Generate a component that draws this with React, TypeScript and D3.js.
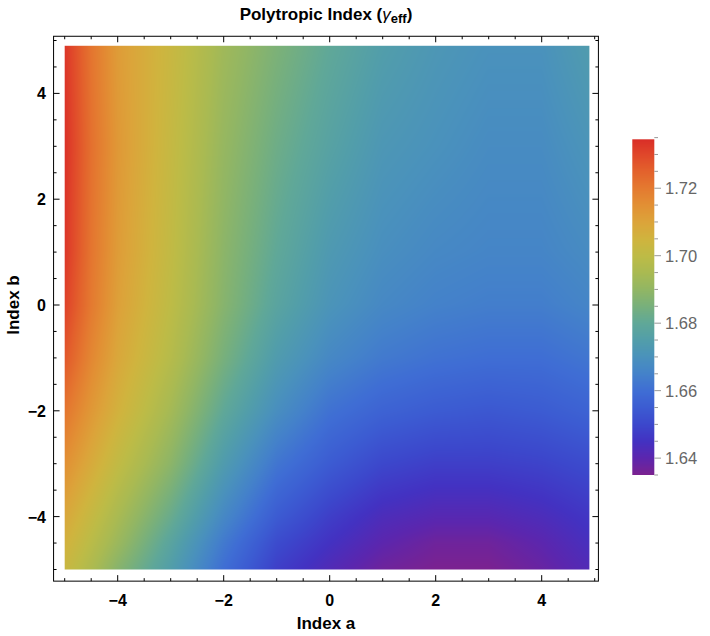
import React, { useMemo } from "react";
import * as d3 from "d3";

// Grid coordinates (Index a columns, Index b rows)
const aGrid = [-5, -4.5, -4, -3, -2, -1, 0, 1, 2, 3, 4, 4.9];
const bGrid = [4.9, 3, 1, 0, -1, -2, -3, -4, -4.5, -5];

// gamma_eff values, one row per b value
const rowB49 = [1.733, 1.721, 1.712, 1.703, 1.693, 1.686, 1.680, 1.675, 1.672, 1.670, 1.670, 1.674];
const rowB3 = [1.734, 1.722, 1.713, 1.702, 1.691, 1.683, 1.677, 1.672, 1.670, 1.668, 1.668, 1.671];
const rowB1 = [1.733, 1.721, 1.712, 1.701, 1.689, 1.680, 1.673, 1.669, 1.667, 1.666, 1.666, 1.668];
const rowB0 = [1.731, 1.720, 1.711, 1.700, 1.688, 1.678, 1.671, 1.667, 1.665, 1.664, 1.664, 1.666];
const rowBm1 = [1.727, 1.717, 1.709, 1.698, 1.685, 1.674, 1.667, 1.663, 1.661, 1.660, 1.660, 1.662];
const rowBm2 = [1.721, 1.713, 1.706, 1.694, 1.680, 1.669, 1.661, 1.657, 1.655, 1.654, 1.655, 1.657];
const rowBm3 = [1.715, 1.708, 1.701, 1.689, 1.674, 1.662, 1.655, 1.650, 1.648, 1.648, 1.649, 1.651];
const rowBm4 = [1.709, 1.702, 1.695, 1.682, 1.667, 1.655, 1.648, 1.643, 1.641, 1.641, 1.643, 1.646];
const rowBm45 = [1.706, 1.699, 1.692, 1.678, 1.663, 1.651, 1.645, 1.640, 1.637, 1.637, 1.640, 1.644];
const rowBm5 = [1.703, 1.696, 1.688, 1.675, 1.660, 1.648, 1.642, 1.637, 1.635, 1.635, 1.638, 1.642];
const gammaRows = [rowB49, rowB3, rowB1, rowB0, rowBm1, rowBm2, rowBm3, rowBm4, rowBm45, rowBm5];

// Colour scale stops (Rainbow-like)
const colorStops = [1.635, 1.64, 1.645, 1.65, 1.655, 1.66, 1.665, 1.67, 1.675, 1.68, 1.685, 1.69, 1.695, 1.7, 1.705, 1.71, 1.715, 1.72, 1.725, 1.73, 1.735];
const colorValues = ["#7b2290", "#5c26ae", "#4332c2", "#3c48cc", "#3c5cd2", "#3f6ed4", "#4482ca", "#4a92bc", "#529eaa", "#60a898", "#78b07c", "#92b664", "#aaba52", "#bebb46", "#d0b43e", "#dca43a", "#e29034", "#e47a30", "#e3622c", "#e0472a", "#d92b27"];

const axisTicks = [-4, -2, 0, 2, 4];
const minorTicks = d3.range(-5, 5.01, 0.5);
const barTicks = [1.64, 1.66, 1.68, 1.7, 1.72];
const barMinor = d3.range(1.635, 1.7351, 0.005);
const barDomain = [1.635, 1.7345];

const W = 710, H = 636;

function interp(val: number, grid: number[]) {
  const n = grid.length;
  const asc = grid[n - 1] > grid[0];
  for (let i = 0; i < n - 1; i++) {
    const g0 = grid[i], g1 = grid[i + 1];
    const inside = asc ? val >= g0 && val <= g1 : val <= g0 && val >= g1;
    if (inside) return { i, t: (val - g0) / (g1 - g0) };
  }
  if (asc ? val < grid[0] : val > grid[0]) return { i: 0, t: 0 };
  return { i: n - 2, t: 1 };
}

export default function App() {
  const x = d3.scaleLinear().domain([-5, 5]).range([64.7, 594.7]);
  const y = d3.scaleLinear().domain([-5, 5]).range([569.5, 40.5]);
  const color = d3.scaleLinear<string>().domain(colorStops).range(colorValues).interpolate(d3.interpolateRgb).clamp(true);
  const cb = d3.scaleLinear().domain(barDomain).range([475, 139.3]);

  const x0 = x(aGrid[0]), x1 = x(aGrid[aGrid.length - 1]);
  const y0 = y(bGrid[0]), y1 = y(bGrid[bGrid.length - 1]);

  const imgUrl = useMemo(() => {
    const w = Math.round(x1 - x0), h = Math.round(y1 - y0);
    const c = document.createElement("canvas");
    c.width = w; c.height = h;
    const ctx = c.getContext("2d")!;
    const img = ctx.createImageData(w, h);
    for (let py = 0; py < h; py++) {
      const bv = y.invert(y0 + py + 0.5);
      const ry = interp(bv, bGrid);
      for (let px = 0; px < w; px++) {
        const av = x.invert(x0 + px + 0.5);
        const rx = interp(av, aGrid);
        const r0 = gammaRows[ry.i], r1 = gammaRows[ry.i + 1];
        const v0 = r0[rx.i] + (r0[rx.i + 1] - r0[rx.i]) * rx.t;
        const v1 = r1[rx.i] + (r1[rx.i + 1] - r1[rx.i]) * rx.t;
        const v = v0 + (v1 - v0) * ry.t;
        const col = d3.rgb(color(v));
        const k = (py * w + px) * 4;
        img.data[k] = col.r; img.data[k + 1] = col.g; img.data[k + 2] = col.b; img.data[k + 3] = 255;
      }
    }
    ctx.putImageData(img, 0, 0);
    return c.toDataURL();
  }, []);

  const barUrl = useMemo(() => {
    const h = 336;
    const c = document.createElement("canvas");
    c.width = 1; c.height = h;
    const ctx = c.getContext("2d")!;
    for (let py = 0; py < h; py++) {
      const v = cb.invert(139.3 + py + 0.5);
      ctx.fillStyle = color(v);
      ctx.fillRect(0, py, 1, 1);
    }
    return c.toDataURL();
  }, []);

  const fL = x(-5.21), fR = x(5.07), fT = y(5.08), fB = y(-5.22);
  const tickFont = "'Liberation Sans', Arial, sans-serif";

  return (
    <svg width={W} height={H} style={{ position: "absolute", left: 0, top: 0, background: "#fff" }}>
      <image href={imgUrl} x={x0} y={y0} width={x1 - x0} height={y1 - y0} preserveAspectRatio="none" />
      <rect x={fL} y={fT} width={fR - fL} height={fB - fT} fill="none" stroke="#000" strokeWidth={1} />
      {minorTicks.map((t) => {
        const major = axisTicks.some((m) => Math.abs(m - t) < 1e-6);
        const len = major ? 6 : 3;
        return (
          <g key={"t" + t} stroke="#000" strokeWidth={1}>
            <line x1={x(t)} x2={x(t)} y1={fB} y2={fB - len} />
            <line x1={x(t)} x2={x(t)} y1={fT} y2={fT + len} />
            <line y1={y(t)} y2={y(t)} x1={fL} x2={fL + len} />
            <line y1={y(t)} y2={y(t)} x1={fR} x2={fR - len} />
          </g>
        );
      })}
      {axisTicks.map((t) => (
        <text key={"xl" + t} x={x(t)} y={606} textAnchor="middle" fontFamily={tickFont} fontWeight="bold" fontSize={16}>
          {t < 0 ? "\u2212" + Math.abs(t) : t}
        </text>
      ))}
      {axisTicks.map((t) => (
        <text key={"yl" + t} x={46} y={y(t) + 6} textAnchor="end" fontFamily={tickFont} fontWeight="bold" fontSize={16}>
          {t < 0 ? "\u2212" + Math.abs(t) : t}
        </text>
      ))}
      <text x={326} y={629} textAnchor="middle" fontFamily={tickFont} fontWeight="bold" fontSize={17}>Index a</text>
      <text transform={`translate(19,305) rotate(-90)`} textAnchor="middle" fontFamily={tickFont} fontWeight="bold" fontSize={17}>Index b</text>
      <text x={326} y={20} textAnchor="middle" fontFamily={tickFont} fontWeight="bold" fontSize={17}>
        Polytropic Index (<tspan fontStyle="italic" fontWeight="normal">γ</tspan><tspan fontSize={13} dy={3}>eff</tspan><tspan dy={-3}>)</tspan>
      </text>
      <image href={barUrl} x={632.3} y={139.3} width={22} height={cb(barDomain[0]) - cb(barDomain[1])} preserveAspectRatio="none" />
      {barMinor.map((t) => {
        const major = barTicks.some((m) => Math.abs(m - t) < 1e-6);
        return <line key={"bm" + t} x1={654.3} x2={major ? 661 : 658} y1={cb(t)} y2={cb(t)} stroke="#999" strokeWidth={1} />;
      })}
      {barTicks.map((t) => (
        <text key={"bl" + t} x={665} y={cb(t) + 6} fontFamily="'Liberation Sans', Arial, sans-serif" fontSize={16.5} fill="#666">
          {t.toFixed(2)}
        </text>
      ))}
    </svg>
  );
}
